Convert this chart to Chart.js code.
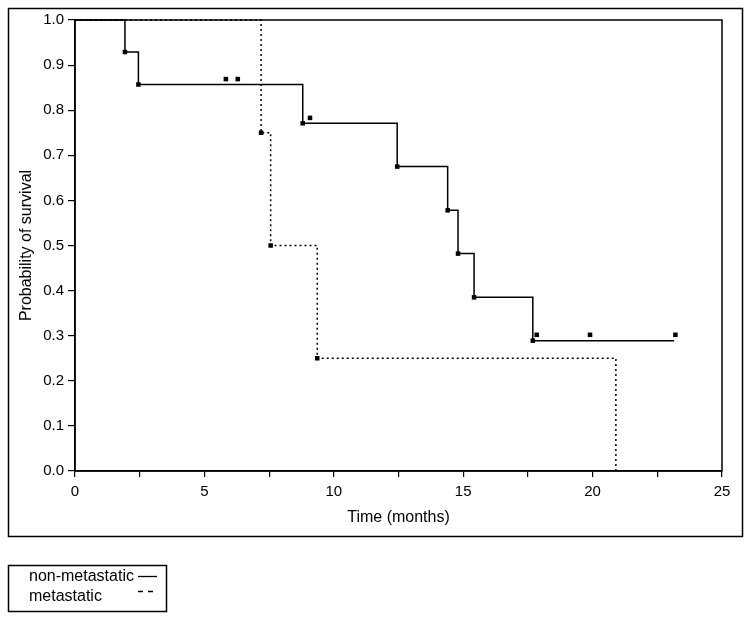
<!DOCTYPE html>
<html lang="en">
<head>
    <meta charset="UTF-8">
    <title>Survival</title>
    <script src="https://cdn.jsdelivr.net/npm/chart.js@4.4.1/dist/chart.umd.min.js"></script>
    <style>
        body { margin: 0; background: #fff; }
    </style>
</head>
<body>
<canvas id="myChart" width="751" height="621"></canvas>
<script>
    // Kaplan-Meier steps (time in months, survival probability)
    const nonMetTime = [0, 1.93, 2.45, 8.8, 12.45, 14.4, 14.8, 15.42, 17.69, 23.15];
    const nonMetSurv = [1, 0.929, 0.857, 0.771, 0.675, 0.578, 0.482, 0.385, 0.289, 0.289];
    const metTime = [0, 7.19, 7.56, 9.36, 20.9];
    const metSurv = [1, 0.75, 0.5, 0.25, 0];
    // censored marks
    const censorTime = [5.83, 6.29, 9.08, 17.84, 19.9, 23.2];
    const censorSurv = [0.869, 0.869, 0.783, 0.302, 0.302, 0.302];
    const legendLabels = ['non-metastatic', 'metastatic'];

    const FONT = 'Liberation Sans, Arial, sans-serif';

    function toPoints(xs, ys) {
        return xs.map((x, i) => ({x: x, y: ys[i]}));
    }
    function innerRadius(n) {
        return ctx => (ctx.dataIndex === 0 || ctx.dataIndex === n - 1) ? 0 : 3.2;
    }

    const framePlugin = {
        id: 'frames',
        afterDraw(chart) {
            const c = chart.ctx;
            const a = chart.chartArea;
            c.save();
            c.strokeStyle = '#000';
            c.lineWidth = 1.5;
            c.strokeRect(a.left, a.top, a.right - a.left, a.bottom - a.top);
            c.strokeRect(8.5, 8.5, 734, 528);
            c.strokeRect(8.5, 565.5, 158, 46);
            c.fillStyle = '#000';
            c.font = '16px ' + FONT;
            c.textBaseline = 'middle';
            c.fillText(legendLabels[0], 29, 577);
            c.fillText(legendLabels[1], 29, 597);
            c.lineWidth = 1.3;
            c.beginPath();
            c.moveTo(138, 576.5);
            c.lineTo(157, 576.5);
            c.stroke();
            c.setLineDash([5, 5]);
            c.beginPath();
            c.moveTo(138, 591.5);
            c.lineTo(154, 591.5);
            c.stroke();
            c.restore();
        }
    };

    const ctx = document.getElementById('myChart').getContext('2d');
    const myChart = new Chart(ctx, {
        type: 'line',
        data: {
            datasets: [
                {
                    label: 'censored',
                    data: toPoints(censorTime, censorSurv),
                    showLine: false,
                    pointStyle: 'rect',
                    pointRadius: 3.2,
                    backgroundColor: '#000',
                    borderColor: '#000',
                    borderWidth: 0,
                    clip: false
                },
                {
                    label: legendLabels[0],
                    data: toPoints(nonMetTime, nonMetSurv),
                    stepped: 'before',
                    borderColor: '#000',
                    borderWidth: 1.5,
                    pointStyle: 'rect',
                    pointRadius: innerRadius(nonMetTime.length),
                    pointBackgroundColor: '#000',
                    pointBorderWidth: 0,
                    fill: false,
                    clip: false
                },
                {
                    label: legendLabels[1],
                    data: toPoints(metTime, metSurv),
                    stepped: 'before',
                    borderColor: '#000',
                    borderWidth: 1.5,
                    borderDash: [2, 3],
                    pointStyle: 'rect',
                    pointRadius: innerRadius(metTime.length),
                    pointBackgroundColor: '#000',
                    pointBorderWidth: 0,
                    fill: false,
                    clip: false
                }
            ]
        },
        options: {
            responsive: false,
            animation: false,
            events: [],
            layout: {
                padding: {left: 10, top: 20, right: 29, bottom: 94}
            },
            plugins: {
                legend: {display: false},
                tooltip: {enabled: false}
            },
            scales: {
                x: {
                    type: 'linear',
                    min: 0,
                    max: 25,
                    afterFit: s => { s.height = 56; },
                    ticks: {
                        stepSize: 2.5,
                        autoSkip: false,
                        maxRotation: 0,
                        padding: 6,
                        color: '#000',
                        font: {family: FONT, size: 15},
                        callback: v => (v % 5 === 0 ? String(v) : '')
                    },
                    grid: {
                        drawOnChartArea: false,
                        drawTicks: true,
                        tickLength: 6,
                        color: '#000',
                        lineWidth: 1.2
                    },
                    border: {display: true, color: '#000', width: 1.5},
                    title: {
                        display: true,
                        text: 'Time (months)',
                        color: '#000',
                        font: {family: FONT, size: 16},
                        padding: {top: 4, bottom: 0}
                    }
                },
                y: {
                    min: 0,
                    max: 1,
                    afterFit: s => { s.width = 65; },
                    ticks: {
                        stepSize: 0.1,
                        padding: 4,
                        color: '#000',
                        font: {family: FONT, size: 15},
                        callback: v => v.toFixed(1)
                    },
                    grid: {
                        drawOnChartArea: false,
                        drawTicks: true,
                        tickLength: 7,
                        color: '#000',
                        lineWidth: 1.2
                    },
                    border: {display: true, color: '#000', width: 1.5},
                    title: {
                        display: true,
                        text: 'Probability of survival',
                        color: '#000',
                        font: {family: FONT, size: 16},
                        padding: {top: 7, bottom: 0}
                    }
                }
            }
        },
        plugins: [framePlugin]
    });
</script>
</body>
</html>
